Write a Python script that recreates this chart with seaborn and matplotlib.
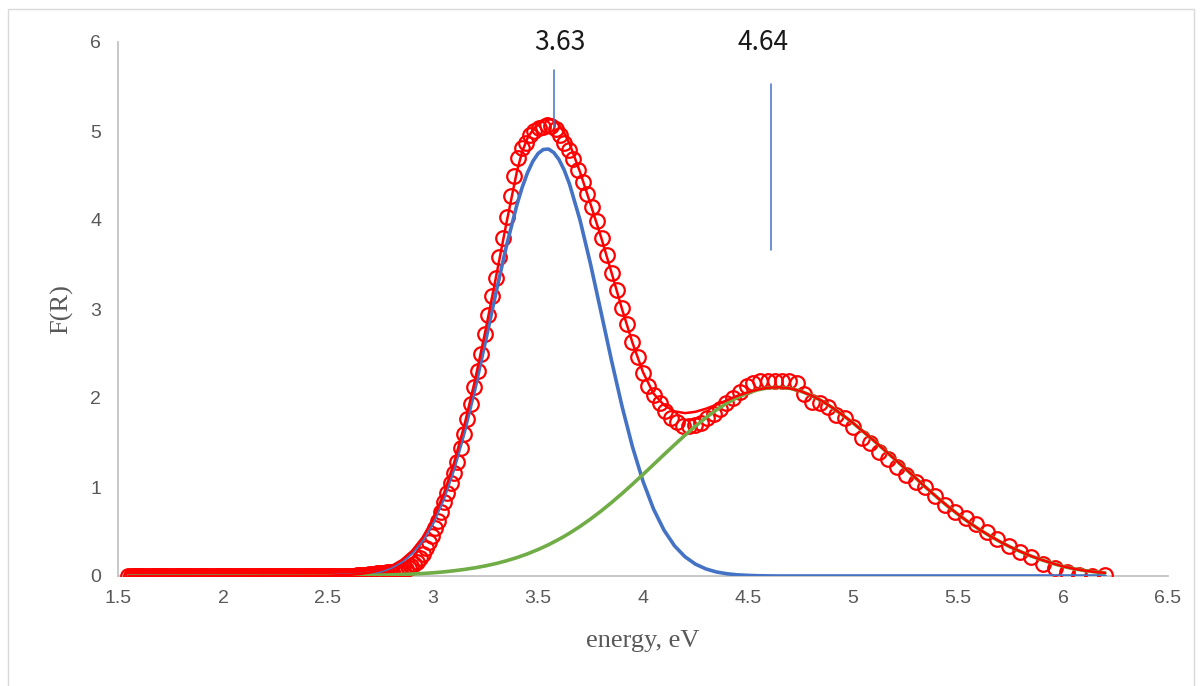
import matplotlib
matplotlib.use("Agg")
import matplotlib.pyplot as plt
import seaborn as sns
from matplotlib.patches import Rectangle

# ---------------- data ----------------
# measured points: energy (eV) and F(R)
data_energy = [
    1.55, 1.56, 1.57, 1.58, 1.59, 1.60, 1.61, 1.62, 1.63, 1.64,
    1.65, 1.66, 1.67, 1.68, 1.69, 1.70, 1.71, 1.72, 1.73, 1.74,
    1.75, 1.76, 1.77, 1.78, 1.79, 1.80, 1.81, 1.82, 1.83, 1.84,
    1.85, 1.86, 1.87, 1.88, 1.89, 1.90, 1.91, 1.92, 1.93, 1.94,
    1.95, 1.96, 1.97, 1.98, 1.99, 2.00, 2.01, 2.02, 2.03, 2.04,
    2.05, 2.06, 2.07, 2.08, 2.09, 2.10, 2.11, 2.12, 2.13, 2.14,
    2.15, 2.16, 2.17, 2.18, 2.19, 2.20, 2.21, 2.22, 2.23, 2.24,
    2.25, 2.26, 2.27, 2.28, 2.29, 2.30, 2.31, 2.32, 2.33, 2.34,
    2.35, 2.36, 2.37, 2.38, 2.39, 2.40, 2.41, 2.42, 2.43, 2.44,
    2.45, 2.46, 2.47, 2.48, 2.49, 2.50, 2.51, 2.52, 2.53, 2.54,
    2.55, 2.56, 2.57, 2.58, 2.59, 2.60, 2.61, 2.62, 2.63, 2.64,
    2.65, 2.66, 2.67, 2.68,
    2.696, 2.707, 2.719, 2.731, 2.743, 2.756, 2.768, 2.780, 2.793, 2.805,
    2.818, 2.831, 2.844, 2.857, 2.870, 2.884, 2.897, 2.911, 2.925, 2.938,
    2.952, 2.967, 2.981, 2.995, 3.010, 3.024, 3.039, 3.054, 3.069, 3.085,
    3.100, 3.116, 3.131, 3.147, 3.163, 3.179, 3.196, 3.212, 3.229, 3.246,
    3.263, 3.280, 3.298, 3.316, 3.333, 3.351, 3.370, 3.388, 3.407, 3.425,
    3.444, 3.464, 3.483, 3.503, 3.523, 3.543, 3.563, 3.584, 3.605, 3.626,
    3.647, 3.669, 3.690, 3.713, 3.735, 3.758, 3.780, 3.804, 3.827, 3.851,
    3.875, 3.899, 3.924, 3.949, 3.974, 4.000, 4.026, 4.052, 4.079, 4.106,
    4.133, 4.161, 4.189, 4.218, 4.247, 4.276, 4.306, 4.336, 4.366, 4.397,
    4.429, 4.460, 4.493, 4.526, 4.559, 4.593, 4.627, 4.662, 4.697, 4.733,
    4.769, 4.806, 4.844, 4.882, 4.921, 4.960, 5.000, 5.041, 5.082, 5.124,
    5.167, 5.210, 5.254, 5.299, 5.345, 5.391, 5.439, 5.487, 5.536, 5.586,
    5.636, 5.688, 5.741, 5.794, 5.849, 5.905, 5.962, 6.019, 6.078, 6.139,
    6.200,
]
data_fr = [
    0, 0, 0, 0, 0, 0, 0, 0, 0, 0,
    0, 0, 0, 0, 0, 0, 0, 0, 0, 0,
    0, 0, 0, 0, 0, 0, 0, 0, 0, 0,
    0, 0, 0, 0, 0, 0, 0, 0, 0, 0,
    0, 0, 0, 0, 0, 0, 0, 0, 0, 0,
    0, 0, 0, 0, 0, 0, 0, 0, 0, 0,
    0, 0, 0, 0, 0, 0, 0, 0, 0, 0,
    0, 0, 0, 0, 0, 0, 0, 0, 0, 0,
    0, 0, 0, 0, 0, 0, 0, 0, 0, 0,
    0, 0, 0, 0, 0, 0, 0, 0, 0, 0,
    0, 0, 0, 0, 0, 0, 0, 0, 0, 0.01,
    0.01, 0.01, 0.01, 0.01,
    0.02, 0.02, 0.02, 0.03, 0.03, 0.03, 0.03, 0.04, 0.04, 0.04,
    0.05, 0.05, 0.06, 0.07, 0.08, 0.09, 0.11, 0.13, 0.16, 0.20,
    0.25, 0.31, 0.38, 0.45, 0.54, 0.62, 0.72, 0.83, 0.93, 1.05,
    1.16, 1.28, 1.44, 1.60, 1.76, 1.93, 2.12, 2.30, 2.50, 2.72,
    2.93, 3.15, 3.35, 3.58, 3.80, 4.03, 4.27, 4.50, 4.70, 4.81,
    4.87, 4.95, 5.00, 5.03, 5.05, 5.07, 5.06, 5.02, 4.95, 4.87,
    4.79, 4.68, 4.56, 4.43, 4.29, 4.15, 3.99, 3.80, 3.61, 3.40,
    3.21, 3.01, 2.83, 2.63, 2.46, 2.28, 2.14, 2.03, 1.94, 1.85,
    1.78, 1.73, 1.69, 1.68, 1.70, 1.72, 1.77, 1.82, 1.88, 1.94,
    2.00, 2.07, 2.13, 2.17, 2.19, 2.19, 2.19, 2.19, 2.19, 2.17,
    2.04, 1.96, 1.94, 1.90, 1.81, 1.78, 1.67, 1.55, 1.50, 1.39,
    1.31, 1.22, 1.14, 1.06, 1.00, 0.90, 0.80, 0.72, 0.65, 0.58,
    0.50, 0.42, 0.34, 0.27, 0.21, 0.14, 0.09, 0.04, 0.01, 0.00,
    0.01,
]

# fitted curves
fit_energy = [
    1.55, 2.00, 2.50, 2.60, 2.65, 2.70, 2.75, 2.80, 2.85, 2.90,
    2.95, 3.00, 3.05, 3.10, 3.15, 3.20, 3.25, 3.30, 3.35, 3.40,
    3.425, 3.45, 3.475, 3.50, 3.525, 3.55, 3.575, 3.60, 3.625, 3.65,
    3.70, 3.75, 3.80, 3.85, 3.90,
    3.95, 4.00, 4.05, 4.10, 4.15, 4.20, 4.25, 4.30, 4.35, 4.40,
    4.45, 4.50, 4.55, 4.60, 4.65, 4.70, 4.75, 4.80, 4.85, 4.90,
    4.95, 5.00, 5.05, 5.10, 5.15, 5.20, 5.25, 5.30, 5.35, 5.40,
    5.45, 5.50, 5.55, 5.60, 5.65, 5.70, 5.75, 5.80, 5.85, 5.90,
    5.95, 6.00, 6.05, 6.10, 6.15, 6.20,
]
peak1_fr = [
    0.0, 0.0, 0.002, 0.009, 0.017, 0.032, 0.056, 0.097, 0.162, 0.260,
    0.403, 0.602, 0.869, 1.210, 1.625, 2.107, 2.638, 3.185, 3.712, 4.175,
    4.369, 4.531, 4.658, 4.746, 4.792, 4.797, 4.758, 4.679, 4.560, 4.404,
    4.000, 3.506, 2.966, 2.422, 1.908,
    1.450, 1.064, 0.753, 0.515, 0.339, 0.216, 0.133, 0.079, 0.045, 0.025,
    0.013, 0.007, 0.003, 0.001, 0.0, 0.0, 0.0, 0.0, 0.0, 0.0,
    0.0, 0.0, 0.0, 0.0, 0.0, 0.0, 0.0, 0.0, 0.0, 0.0,
    0.0, 0.0, 0.0, 0.0, 0.0, 0.0, 0.0, 0.0, 0.0, 0.0,
    0.0, 0.0, 0.0, 0.0, 0.0, 0.0,
]
peak2_fr = [
    0.0, 0.0, 0.002, 0.004, 0.005, 0.007, 0.010, 0.013, 0.017, 0.022,
    0.028, 0.036, 0.046, 0.059, 0.074, 0.092, 0.114, 0.140, 0.171, 0.207,
    0.228, 0.249, 0.273, 0.297, 0.324, 0.351, 0.382, 0.413, 0.446, 0.481,
    0.557, 0.640, 0.729, 0.825, 0.926,
    1.032, 1.141, 1.252, 1.364, 1.474, 1.582, 1.684, 1.780, 1.867, 1.943,
    2.007, 2.058, 2.094, 2.115, 2.120, 2.108, 2.078, 2.030, 1.970, 1.895,
    1.810, 1.720, 1.620, 1.520, 1.415, 1.310, 1.205, 1.097, 0.989, 0.885,
    0.786, 0.693, 0.606, 0.526, 0.453, 0.386, 0.325, 0.272, 0.222, 0.180,
    0.142, 0.108, 0.082, 0.062, 0.046, 0.035,
]
fit_total_fr = [
    0.0, 0.0, 0.004, 0.013, 0.022, 0.039, 0.066, 0.110, 0.179, 0.282,
    0.431, 0.638, 0.915, 1.269, 1.700, 2.200, 2.760, 3.360, 3.970, 4.550,
    4.770, 4.920, 5.010, 5.080, 5.120, 5.140, 5.120, 5.070, 4.980, 4.860,
    4.540, 4.180, 3.810, 3.410, 3.000,
    2.620, 2.290, 2.050, 1.920, 1.850, 1.830, 1.845, 1.880, 1.925, 1.975,
    2.025, 2.065, 2.097, 2.116, 2.120, 2.108, 2.078, 2.030, 1.970, 1.895,
    1.810, 1.720, 1.620, 1.520, 1.415, 1.310, 1.205, 1.097, 0.989, 0.885,
    0.786, 0.693, 0.606, 0.526, 0.453, 0.386, 0.325, 0.272, 0.222, 0.180,
    0.142, 0.108, 0.082, 0.062, 0.046, 0.035,
]

# peak call-outs
peak_labels = ["3.63", "4.64"]
peak_line_x = [3.575, 4.61]
peak_line_top = [5.69, 5.53]
peak_line_bottom = [5.04, 3.66]
peak_label_x = [3.605, 4.57]

x_ticks = [1.5, 2, 2.5, 3, 3.5, 4, 4.5, 5, 5.5, 6, 6.5]
x_tick_labels = ["1.5", "2", "2.5", "3", "3.5", "4", "4.5", "5", "5.5", "6", "6.5"]
y_ticks = [0, 1, 2, 3, 4, 5, 6]
y_tick_labels = ["0", "1", "2", "3", "4", "5", "6"]

# ---------------- styling ----------------
sns.set_theme(style="white")
plt.rcParams["font.family"] = ["Liberation Sans", "DejaVu Sans"]

W, H = 1201, 686
fig = plt.figure(figsize=(W / 100, H / 100), dpi=100)
fig.patch.set_facecolor("white")
ax = fig.add_axes([118 / W, 110 / H, 1050 / W, 534 / H])
ax.set_facecolor("white")

RED = "#FF0000"
BLUE = "#4472C4"
GREEN = "#70AD47"

sns.lineplot(x=data_energy, y=data_fr, ax=ax, sort=False, estimator=None,
             linestyle="", marker="o", markersize=10.5,
             markerfacecolor="none", markeredgecolor=RED,
             markeredgewidth=1.6, color=RED, zorder=3)
sns.lineplot(x=fit_energy, y=peak1_fr, ax=ax, sort=False, estimator=None,
             color=BLUE, linewidth=2.6, zorder=4)
sns.lineplot(x=fit_energy, y=peak2_fr, ax=ax, sort=False, estimator=None,
             color=GREEN, linewidth=2.6, zorder=4)
sns.lineplot(x=fit_energy, y=fit_total_fr, ax=ax, sort=False, estimator=None,
             color=RED, linewidth=1.8, zorder=5)

for lab, lx, top, bot, tx in zip(peak_labels, peak_line_x, peak_line_top,
                                 peak_line_bottom, peak_label_x):
    ax.plot([lx, lx], [bot, top], color=BLUE, linewidth=1.1, zorder=6)
    ax.text(tx, 6.0, lab, ha="center", va="center", fontsize=19,
            color="#1a1a1a", family=["Noto Sans CJK JP", "DejaVu Sans"],
            zorder=7)

ax.set_xlim(1.5, 6.5)
ax.set_ylim(0, 6)
ax.set_xticks(x_ticks)
ax.set_xticklabels(x_tick_labels)
ax.set_yticks(y_ticks)
ax.set_yticklabels(y_tick_labels)
ax.tick_params(axis="x", length=0, pad=10, labelsize=14, labelcolor="#595959")
ax.tick_params(axis="y", length=0, pad=12, labelsize=14, labelcolor="#595959")
ax.grid(False)

for side in ["top", "right"]:
    ax.spines[side].set_visible(False)
for side in ["left", "bottom"]:
    ax.spines[side].set_color("#BFBFBF")
    ax.spines[side].set_linewidth(1.2)

ax.set_xlabel("energy, eV", fontsize=19, color="#595959",
              family=["Liberation Serif", "DejaVu Serif"])
ax.set_ylabel("F(R)", fontsize=19, color="#595959",
              family=["Liberation Serif", "DejaVu Serif"])
ax.xaxis.set_label_coords((643 - 118) / 1050, (576 - 641) / 534)
ax.xaxis.label.set_va("center")
ax.yaxis.set_label_coords((62 - 118) / 1050, 0.5)
ax.yaxis.label.set_va("center")

# chart-area border
fig.patches.append(Rectangle((7.5 / W, -0.02), (1194 - 7.5) / W, 1.02 - 8.5 / H,
                             transform=fig.transFigure, fill=False,
                             edgecolor="#D9D9D9", linewidth=1.0))

fig.savefig("out.png", dpi=100)
